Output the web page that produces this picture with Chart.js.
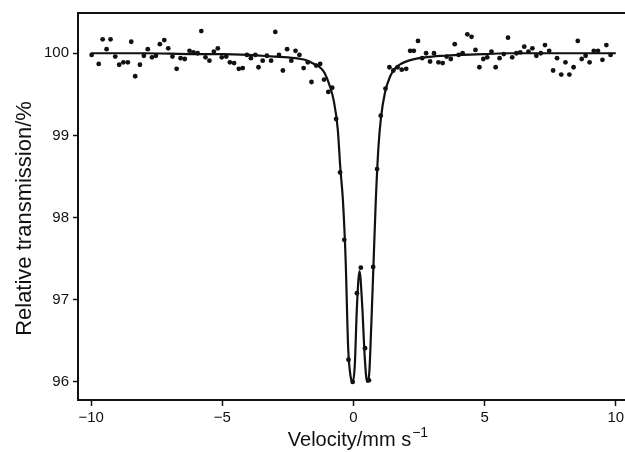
<!DOCTYPE html>
<html lang="en">
  <head>
    <meta charset="UTF-8" />
    <title>Mössbauer spectrum</title>
    <script src="https://cdn.jsdelivr.net/npm/chart.js"></script>
    <style>
      html, body { margin: 0; padding: 0; background: #fff; }
      #wrap { width: 625px; height: 452px; }
    </style>
  </head>
  <body>
    <div id="wrap"><canvas id="spectrum"></canvas></div>
    <script>
      // measured points (velocity in mm/s, relative transmission in %)
      const velocity = [
        -9.98, -9.71, -9.56, -9.41, -9.26, -9.08, -8.93, -8.77, -8.6, -8.47,
        -8.32, -8.14, -7.99, -7.84, -7.68, -7.53, -7.38, -7.21, -7.06, -6.9,
        -6.74, -6.59, -6.43, -6.25, -6.1, -5.94, -5.8, -5.64, -5.49, -5.32,
        -5.17, -5.02, -4.85, -4.71, -4.55, -4.37, -4.22, -4.06, -3.91, -3.74,
        -3.62, -3.46, -3.3, -3.14, -2.98, -2.84, -2.69, -2.53, -2.37, -2.21,
        -2.06, -1.9, -1.74, -1.6, -1.42, -1.27, -1.12, -0.96, -0.81, -0.66,
        -0.51, -0.35, -0.19, -0.03, 0.13, 0.28, 0.44, 0.59, 0.75, 0.9,
        1.04, 1.22, 1.37, 1.52, 1.68, 1.84, 2.01, 2.16, 2.3, 2.46,
        2.62, 2.77, 2.92, 3.07, 3.24, 3.4, 3.55, 3.71, 3.86, 4.01,
        4.16, 4.34, 4.5, 4.65, 4.8, 4.95, 5.1, 5.26, 5.42, 5.57,
        5.73, 5.89, 6.05, 6.21, 6.36, 6.51, 6.67, 6.82, 6.97, 7.14,
        7.3, 7.46, 7.61, 7.76, 7.92, 8.08, 8.23, 8.39, 8.55, 8.7,
        8.85, 9.0, 9.16, 9.32, 9.49, 9.64, 9.8
      ];
      const transmission = [
        99.98, 99.87, 100.17, 100.05, 100.17, 99.96, 99.86, 99.89, 99.89, 100.14,
        99.72, 99.86, 99.97, 100.05, 99.95, 99.97, 100.11, 100.16, 100.06, 99.96,
        99.81, 99.94, 99.93, 100.03, 100.01, 100.0, 100.27, 99.95, 99.91, 100.02,
        100.06, 99.95, 99.96, 99.89, 99.88, 99.81, 99.82, 99.98, 99.94, 99.98,
        99.83, 99.91, 99.97, 99.91, 100.26, 99.98, 99.79, 100.05, 99.91, 100.03,
        99.98, 99.82, 99.89, 99.65, 99.85, 99.87, 99.68, 99.53, 99.58, 99.2,
        98.55, 97.73, 96.27, 96.0, 97.08, 97.39, 96.41, 96.02, 97.4, 98.59,
        99.24, 99.57, 99.83, 99.79, 99.83, 99.8, 99.81, 100.03, 100.03, 100.15,
        99.94, 100.0, 99.9, 100.0, 99.89, 99.88, 99.96, 99.93, 100.11, 99.98,
        100.0, 100.23, 100.2, 100.04, 99.83, 99.93, 99.95, 100.02, 99.83, 99.94,
        99.99, 100.19, 99.95, 100.0, 100.01, 100.08, 100.02, 100.06, 99.97, 100.0,
        100.1, 100.03, 99.79, 99.94, 99.74, 99.89, 99.74, 99.83, 100.15, 99.93,
        99.97, 99.89, 100.03, 100.03, 99.92, 100.1, 99.98
      ];

      // fitted curve
      const fitVelocity = [
        -10, -8, -6, -5, -4, -3.5, -3, -2.5, -2, -1.75, -1.5, -1.25, -1.1, -0.9,
        -0.75, -0.6, -0.5, -0.4, -0.3, -0.2, -0.1, -0.03, 0.05, 0.13, 0.23, 0.33,
        0.43, 0.52, 0.6, 0.68, 0.76, 0.85, 0.95, 1.05, 1.2, 1.4, 1.6, 1.8, 2.1,
        2.5, 3, 3.5, 4, 5, 6, 8, 10
      ];
      const fitTransmission = [
        100.0, 100.0, 99.99, 99.99, 99.98, 99.97, 99.96, 99.95, 99.93, 99.91,
        99.87, 99.82, 99.76, 99.6, 99.42, 99.08, 98.6, 98.2, 97.5, 96.4,
        96.05, 96.0, 96.2, 96.9, 97.35, 96.95, 96.3, 96.0, 96.1, 96.7,
        97.4, 98.2, 98.85, 99.22, 99.52, 99.72, 99.82, 99.87, 99.91, 99.94,
        99.96, 99.97, 99.98, 99.99, 100.0, 100.0, 100.0
      ];

      const xTicks = [-10, -5, 0, 5, 10];
      const yTicks = [96, 97, 98, 99, 100];

      const fontFamily = "'Liberation Sans', Arial, sans-serif";

      // top frame line and both axis titles (x title needs a real superscript)
      const frameAndTitles = {
        id: "frameAndTitles",
        afterDraw(chart) {
          const { ctx, chartArea } = chart;
          ctx.save();
          ctx.strokeStyle = "#111";
          ctx.lineWidth = 2;
          ctx.beginPath();
          ctx.moveTo(chartArea.left - 1, chartArea.top);
          ctx.lineTo(chart.width, chartArea.top);
          ctx.stroke();

          ctx.fillStyle = "#111";
          ctx.textBaseline = "alphabetic";
          const main = "Velocity/mm s";
          const sup = "\u22121";
          ctx.font = "20px " + fontFamily;
          const w1 = ctx.measureText(main).width;
          ctx.font = "14px " + fontFamily;
          const w2 = ctx.measureText(sup).width;
          const cx = chart.scales.x.getPixelForValue(0) + 4;
          const x0 = cx - (w1 + w2) / 2;
          const base = chart.height - 6;
          ctx.font = "20px " + fontFamily;
          ctx.fillText(main, x0, base);
          ctx.font = "14px " + fontFamily;
          ctx.fillText(sup, x0 + w1 + 1, base - 9);

          ctx.translate(25, (chartArea.top + chartArea.bottom) / 2 + 12);
          ctx.rotate(-Math.PI / 2);
          ctx.textAlign = "center";
          ctx.textBaseline = "middle";
          ctx.font = "22px " + fontFamily;
          ctx.fillText("Relative transmission/%", 0, 0);
          ctx.restore();
        },
      };

      const minus = (v) => (v < 0 ? "\u2212" + Math.abs(v) : String(v));

      new Chart(document.getElementById("spectrum"), {
        type: "scatter",
        data: {
          datasets: [
            {
              label: "fit",
              type: "line",
              data: fitVelocity.map((v, i) => ({ x: v, y: fitTransmission[i] })),
              borderColor: "#111",
              borderWidth: 2.2,
              pointRadius: 0,
              cubicInterpolationMode: "monotone",
              fill: false,
              order: 2,
            },
            {
              label: "data",
              data: velocity.map((v, i) => ({ x: v, y: transmission[i] })),
              backgroundColor: "#111",
              borderColor: "#111",
              pointRadius: 2.4,
              pointBorderWidth: 0,
              order: 1,
            },
          ],
        },
        options: {
          responsive: true,
          maintainAspectRatio: false,
          animation: false,
          layout: {
            autoPadding: false,
            padding: { top: 13, right: 0, left: 0, bottom: 0 },
          },
          plugins: { legend: { display: false }, tooltip: { enabled: false } },
          scales: {
            x: {
              type: "linear",
              min: -10.5,
              max: 10.35,
              afterFit: (s) => { s.height = 52; },
              afterBuildTicks: (s) => { s.ticks = xTicks.map((v) => ({ value: v })); },
              ticks: {
                includeBounds: false,
                color: "#111",
                padding: 0,
                font: { family: fontFamily, size: 15 },
                callback: minus,
              },
              // long tick slot so the labels sit low, dashed so only a short mark shows
              grid: {
                drawOnChartArea: false,
                tickLength: 9,
                color: "#111",
                tickWidth: 1.5,
                tickBorderDash: [5, 30],
              },
              border: { color: "#111", width: 2 },
            },
            y: {
              min: 95.78,
              max: 100.49,
              afterFit: (s) => { s.width = 78; },
              afterBuildTicks: (s) => { s.ticks = yTicks.map((v) => ({ value: v })); },
              ticks: {
                includeBounds: false,
                color: "#111",
                padding: 4,
                font: { family: fontFamily, size: 15 },
              },
              grid: { drawOnChartArea: false, tickLength: 5, color: "#111", tickWidth: 1.5 },
              border: { color: "#111", width: 2 },
            },
          },
        },
        plugins: [frameAndTitles],
      });
    </script>
  </body>
</html>
